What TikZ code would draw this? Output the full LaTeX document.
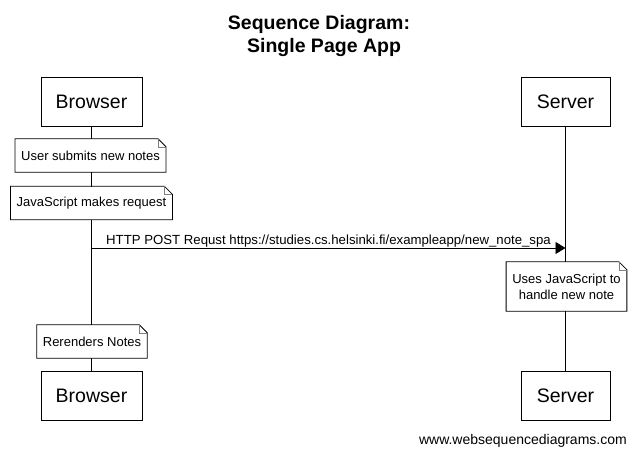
\documentclass[tikz,border=0pt]{standalone}
\usepackage{fontspec}
\setmainfont{Liberation Sans}
\usetikzlibrary{arrows.meta}
\newcommand\earnote[1]{%
  \draw[line width=0.8pt] (#1.south west) -- (#1.north west) -- ([xshift=-8pt]#1.north east) -- ([yshift=-8pt]#1.north east) -- (#1.south east) -- cycle;
  \draw[line width=0.5pt, gray] ([xshift=-8pt]#1.north east) |- ([yshift=-8pt]#1.north east);}
\begin{document}
\begin{tikzpicture}[x=1pt,y=-1pt,
  actor/.style={draw, line width=0.9pt, fill=white, minimum height=49pt, inner sep=0pt, font=\fontsize{19.5}{22}\selectfont},
  note/.style={fill=white, inner xsep=6pt, inner ysep=0pt, minimum height=33pt, align=center, font=\fontsize{13}{16}\selectfont},
  life/.style={line width=0.8pt},
  msg/.style={line width=0.8pt, -{Triangle[length=10pt,width=12pt]}},
  titlefont/.style={font=\bfseries\fontsize{19.5}{23}\selectfont, inner sep=0pt, anchor=base}]
\useasboundingbox[fill=white] (0,0) rectangle (637,455);

\node[titlefont] (title1) at (319,29) {Sequence Diagram:};
\node[titlefont] (title2) at (324,52) {Single Page App};

\node[actor, minimum width=101pt] (bt) at (91.5,101.5) {Browser};
\node[actor, minimum width=89pt] (st) at (565.5,101.5) {Server};
\node[actor, minimum width=101pt] (bb) at (91.5,395.5) {Browser};
\node[actor, minimum width=89pt] (sb) at (565.5,396) {Server};

\draw[life] (bt) -- (bb);
\draw[life] (st) -- (sb);

\node[note] (n1) at (90.5,155.5) {User submits new notes};
\earnote{n1}
\node[note] (n2) at (91.5,203) {JavaScript makes request};
\earnote{n2}

\coordinate (a0) at (bt.south |- 0,248);
\coordinate (a1) at (st.south |- 0,248);
\draw[msg] (a0) -- node[anchor=base, yshift=4pt, inner sep=0pt, font=\fontsize{13.2}{16}\selectfont] (lbl) {HTTP POST Requst https://studies.cs.helsinki.fi/exampleapp/new\_note\_spa} (a1);

\node[note, minimum height=49pt] (n3) at (566.5,286.5) {Uses JavaScript to\\handle new note};
\earnote{n3}
\node[note] (n4) at (92,341.5) {Rerenders Notes};
\earnote{n4}

\node[anchor=base east, inner sep=0pt, font=\fontsize{14}{16}\selectfont] (footer) at (627,444) {www.websequencediagrams.com};
\end{tikzpicture}
\end{document}
